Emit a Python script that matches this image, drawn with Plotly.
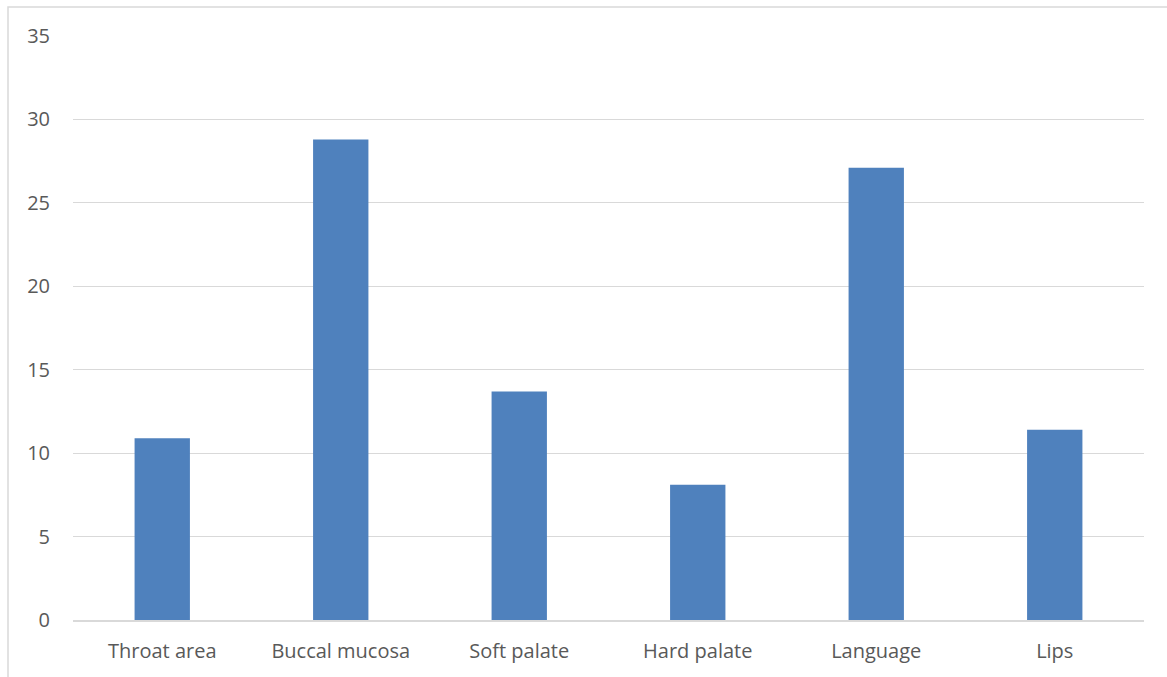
import plotly.graph_objects as go

categories = ["Throat area", "Buccal mucosa", "Soft palate", "Hard palate", "Language", "Lips"]
values = [10.9, 28.8, 13.7, 8.1, 27.1, 11.4]
y_ticks = [0, 5, 10, 15, 20, 25, 30, 35]

W, H = 1167, 677
L, R, T, B = 73, 23, 36, 57
pw, ph = W - L - R, H - T - B

fig = go.Figure(go.Bar(x=categories, y=values, marker_color="#4f81bd", marker_line_width=0))

fig.update_layout(
    width=W, height=H,
    margin=dict(l=L, r=R, t=T, b=B, pad=0),
    plot_bgcolor="white", paper_bgcolor="white",
    bargap=0.69,
    showlegend=False,
    font=dict(family="Open Sans, Liberation Sans, sans-serif", size=20, color="#595959"),
    xaxis=dict(showgrid=False, showline=True, linecolor="#d9d9d9", linewidth=1.5,
               ticks="", ticklabelstandoff=12, tickfont=dict(size=20, color="#595959")),
    yaxis=dict(range=[0, 35], tickvals=y_ticks, showgrid=True, gridcolor="#d9d9d9", gridwidth=1,
               zeroline=False, showline=False, ticks="", ticklabelstandoff=22,
               tickfont=dict(size=20, color="#595959")),
    shapes=[dict(type="rect", xref="paper", yref="paper",
                 x0=(8 - L) / pw, x1=(W + 20 - L) / pw,
                 y0=-(H + 20 - T - ph) / ph, y1=1 + (T - 7) / ph,
                 line=dict(color="#d9d9d9", width=1.5), layer="below")],
)

fig.write_html("out.html")
